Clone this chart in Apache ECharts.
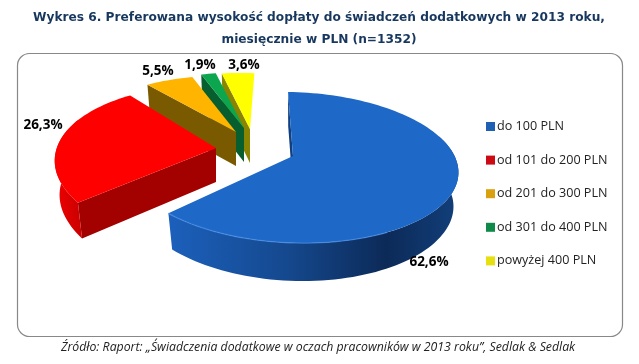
<!DOCTYPE html>
<html><head><meta charset="utf-8">
<style>html,body{margin:0;padding:0;background:#fff}#c{width:639px;height:364px}</style>
<script src="https://cdn.jsdelivr.net/npm/echarts@6/dist/echarts.min.js"></script>
</head><body><div id="c"></div>
<script>
const categories = ['do 100 PLN','od 101 do 200 PLN','od 201 do 300 PLN','od 301 do 400 PLN','powyżej 400 PLN'];
const values = [62.6,26.3,5.5,1.9,3.6];
const titleLines = ['Wykres 6. Preferowana wysokość dopłaty do świadczeń dodatkowych w 2013 roku,','miesięcznie w PLN (n=1352)'];
const sourceText = 'Źródło: Raport: „Świadczenia dodatkowe w oczach pracowników w 2013 roku”, Sedlak & Sedlak';
const topColors = ['#1e68c8','#ff0000','#ffb400','#0ba64e','#ffff00'];
const wallColors = ['#123f80','#a30000','#7a5a00','#075f30','#8a8400'];
const legendColors = ['#1f5fb4','#cc0a14','#d9a010','#0f8a48','#e6e010'];
// slice placement: apex, x/y scale, perspective, angle nudge (deg), label centre
const apexes = [[293,156],[216,148],[236,132],[244,128],[250,129]];
const scalesX = [1.055,1.015,1,0.93,0.93];
const scalesY = [1,1.03,0.88,0.86,0.875];
const perspectives = [0.152,0.22,0.152,0.152,0.152];
const nudges = [[-2,-3],[3,0],[0,1],[0,0],[0,2]];
const labelPos = [[429,262],[43,125],[158,71],[200,65],[244,65]];

const RX=155, RY=73.7, SHEAR=0.03, SHRINK=0.97;
const total = values.reduce((a,b)=>a+b,0);
function depthAt(deg){
  const v=-Math.cos(deg*Math.PI/180);
  return 34+(v>0?4*v*v:0);
}
function proj(deg,i,lower){
  const t=deg*Math.PI/180,u=Math.sin(t),v=-Math.cos(t),w=1-perspectives[i]*v;
  const ap=apexes[i];
  const dx=scalesX[i]*RX*u/w;
  const y=ap[1]+scalesY[i]*RY*v/w+SHEAR*dx;
  return lower ? [ap[0]+dx*SHRINK, y+depthAt(deg)] : [ap[0]+dx, y];
}
function arc(a,b,i,lower){
  const n=Math.max(4,Math.ceil(Math.abs(b-a)/2)),o=[];
  for(let k=0;k<=n;k++)o.push(proj(a+(b-a)*k/n,i,lower));
  return o;
}
function sliceRender(idx){
  return function(params,api){
    const val=api.value(0);
    let before=0;for(let i=0;i<idx;i++)before+=values[i];
    const a=before/total*360+nudges[idx][0], b=(before+val)/total*360+nudges[idx][1];
    const ap=apexes[idx];
    const children=[];
    const r0=proj(a,idx), r0l=proj(a,idx,true);
    children.push({type:'polygon',shape:{points:[ap,r0,r0l,[ap[0],ap[1]+34]]},style:{fill:wallColors[idx]}});
    const ra=Math.max(a,70), rb=Math.min(b,290);
    if(rb>ra){
      const up=arc(ra,rb,idx), low=arc(ra,rb,idx,true).reverse();
      const fill = idx===0
        ? {type:'linear',x:0,y:0,x2:1,y2:0,colorStops:[{offset:0,color:'#1c60bc'},{offset:.4,color:'#15498f'},{offset:.75,color:'#0c2a58'},{offset:1,color:'#123f7a'}]}
        : {type:'linear',x:0,y:0,x2:1,y2:0,colorStops:[{offset:0,color:'#f00000'},{offset:1,color:'#c80000'}]};
      children.push({type:'polygon',shape:{points:up.concat(low)},style:{fill}});
    }
    children.push({type:'polygon',shape:{points:[ap].concat(arc(a,b,idx))},style:{fill:topColors[idx]}});
    if(idx===0){
      children.push({type:'polyline',shape:{points:arc(150,b,idx)},style:{fill:'none',stroke:'#4a8ee6',lineWidth:1.3,opacity:.7}});
    }
    children.push({type:'text',style:{text:String(val).replace('.',',')+'%',x:labelPos[idx][0],y:labelPos[idx][1],align:'center',verticalAlign:'middle',font:'bold 13.5px "Open Sans"',fill:'#000'}});
    return {type:'group',children};
  };
}
const order=[4,3,2,1,0];
const chart=echarts.init(document.getElementById('c'),null,{renderer:'canvas'});
chart.setOption({
  animation:false,
  backgroundColor:'#fff',
  graphic:[
    {type:'rect',z:-1,shape:{x:17.5,y:53.5,width:605,height:283,r:12},style:{fill:'#fff',stroke:'#888',lineWidth:1.2}},
    {type:'text',style:{text:titleLines[0],x:319,y:17.5,align:'center',verticalAlign:'middle',font:'bold 12.2px "DejaVu Sans"',fill:'#17375e'}},
    {type:'text',style:{text:titleLines[1],x:319,y:40,align:'center',verticalAlign:'middle',font:'bold 12.2px "DejaVu Sans"',fill:'#17375e'}},
    {type:'text',style:{text:sourceText,x:318,y:347,align:'center',verticalAlign:'middle',font:'italic 12.3px "Open Sans"',fill:'#222'}}
  ],
  legend:{
    orient:'vertical',left:486,top:120,padding:0,itemWidth:9,itemHeight:9,itemGap:20.6,icon:'rect',
    data:categories,
    textStyle:{fontFamily:'Open Sans',fontSize:12.6,color:'#222',padding:[0,0,0,-3]}
  },
  series:order.map(i=>({
    type:'custom',name:categories[i],coordinateSystem:'none',
    itemStyle:{color:legendColors[i]},
    data:[[values[i]]],
    renderItem:sliceRender(i),
    silent:true
  }))
});
</script></body></html>
